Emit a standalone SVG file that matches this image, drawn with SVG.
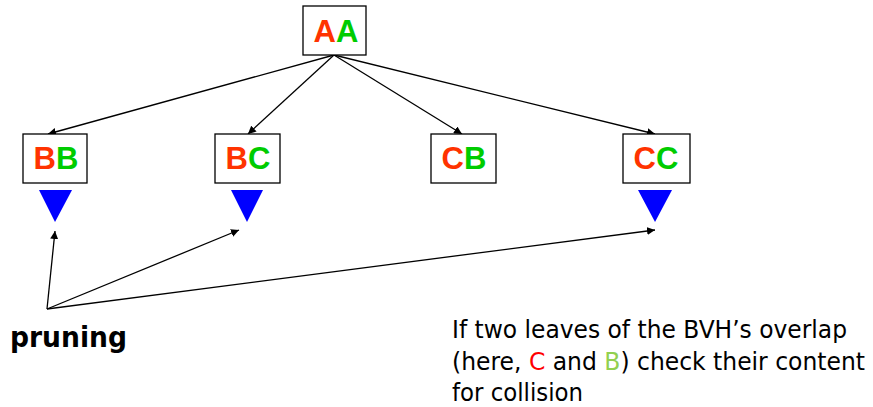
<svg xmlns="http://www.w3.org/2000/svg" width="873" height="407" viewBox="0 0 873 407">
  <style>
    .box { fill: #ffffff; stroke: #000000; stroke-width: 1.3; }
    .lbl { font-family: "Liberation Sans", Arial, sans-serif; font-weight: bold; font-size: 31px; text-anchor: middle; }
    .r { fill: #ff3300; }
    .g { fill: #00cc00; }
    .tri { fill: #0000ff; }
    .edge { stroke: #000000; stroke-width: 1.3; fill: none; marker-end: url(#arrow); }
    .note { font-family: "DejaVu Sans", Verdana, sans-serif; font-size: 24px; fill: #000000; }
  </style>
  <defs>
    <marker id="arrow" viewBox="0 0 10 10" refX="10" refY="5" markerWidth="8" markerHeight="8" markerUnits="userSpaceOnUse" orient="auto">
      <path d="M0,0 L10,5 L0,10 z" fill="#000000"/>
    </marker>
  </defs>
  <rect width="873" height="407" fill="#ffffff"/>

  <g id="connectors">
    <line class="edge" x1="334" y1="55" x2="48" y2="134"/>
    <line class="edge" x1="334" y1="55" x2="248" y2="134"/>
    <line class="edge" x1="334" y1="55" x2="462" y2="134"/>
    <line class="edge" x1="334" y1="55" x2="655" y2="134"/>
    <line class="edge" x1="47" y1="309" x2="55" y2="231"/>
    <line class="edge" x1="47" y1="309" x2="239" y2="230"/>
    <line class="edge" x1="47" y1="309" x2="655" y2="230"/>
  </g>

  <g id="node-AA">
    <rect class="box" x="303" y="6" width="63" height="49"/>
    <text class="lbl" x="336" y="42"><tspan class="r">A</tspan><tspan class="g">A</tspan></text>
  </g>

  <g id="node-BB">
    <rect class="box" x="23" y="134" width="64" height="49"/>
    <text class="lbl" x="56" y="169"><tspan class="r">B</tspan><tspan class="g">B</tspan></text>
    <polygon class="tri" points="39,190 72,190 55,222"/>
  </g>

  <g id="node-BC">
    <rect class="box" x="215" y="134" width="65" height="49"/>
    <text class="lbl" x="248" y="169"><tspan class="r">B</tspan><tspan class="g">C</tspan></text>
    <polygon class="tri" points="231,190 263,190 247,222"/>
  </g>

  <g id="node-CB">
    <rect class="box" x="431" y="134" width="65" height="49"/>
    <text class="lbl" x="464" y="169"><tspan class="r">C</tspan><tspan class="g">B</tspan></text>
  </g>

  <g id="node-CC">
    <rect class="box" x="623" y="134" width="67" height="49"/>
    <text class="lbl" x="656" y="169"><tspan class="r">C</tspan><tspan class="g">C</tspan></text>
    <polygon class="tri" points="638,190 672,190 655,222"/>
  </g>

  <g id="pruning">
    <text x="10" y="347" font-family="DejaVu Sans, Verdana, sans-serif" font-weight="bold" font-size="29px" fill="#000000" textLength="117" lengthAdjust="spacingAndGlyphs">pruning</text>
  </g>

  <g id="note">
    <text class="note" x="452" y="338" textLength="395" lengthAdjust="spacingAndGlyphs">If two leaves of the BVH’s overlap</text>
    <text class="note" x="452" y="370" textLength="413" lengthAdjust="spacingAndGlyphs">(here, <tspan fill="#ff0000">C</tspan> and <tspan fill="#92d050">B</tspan>) check their content</text>
    <text class="note" x="452" y="401" textLength="131" lengthAdjust="spacingAndGlyphs">for collision</text>
  </g>
</svg>
